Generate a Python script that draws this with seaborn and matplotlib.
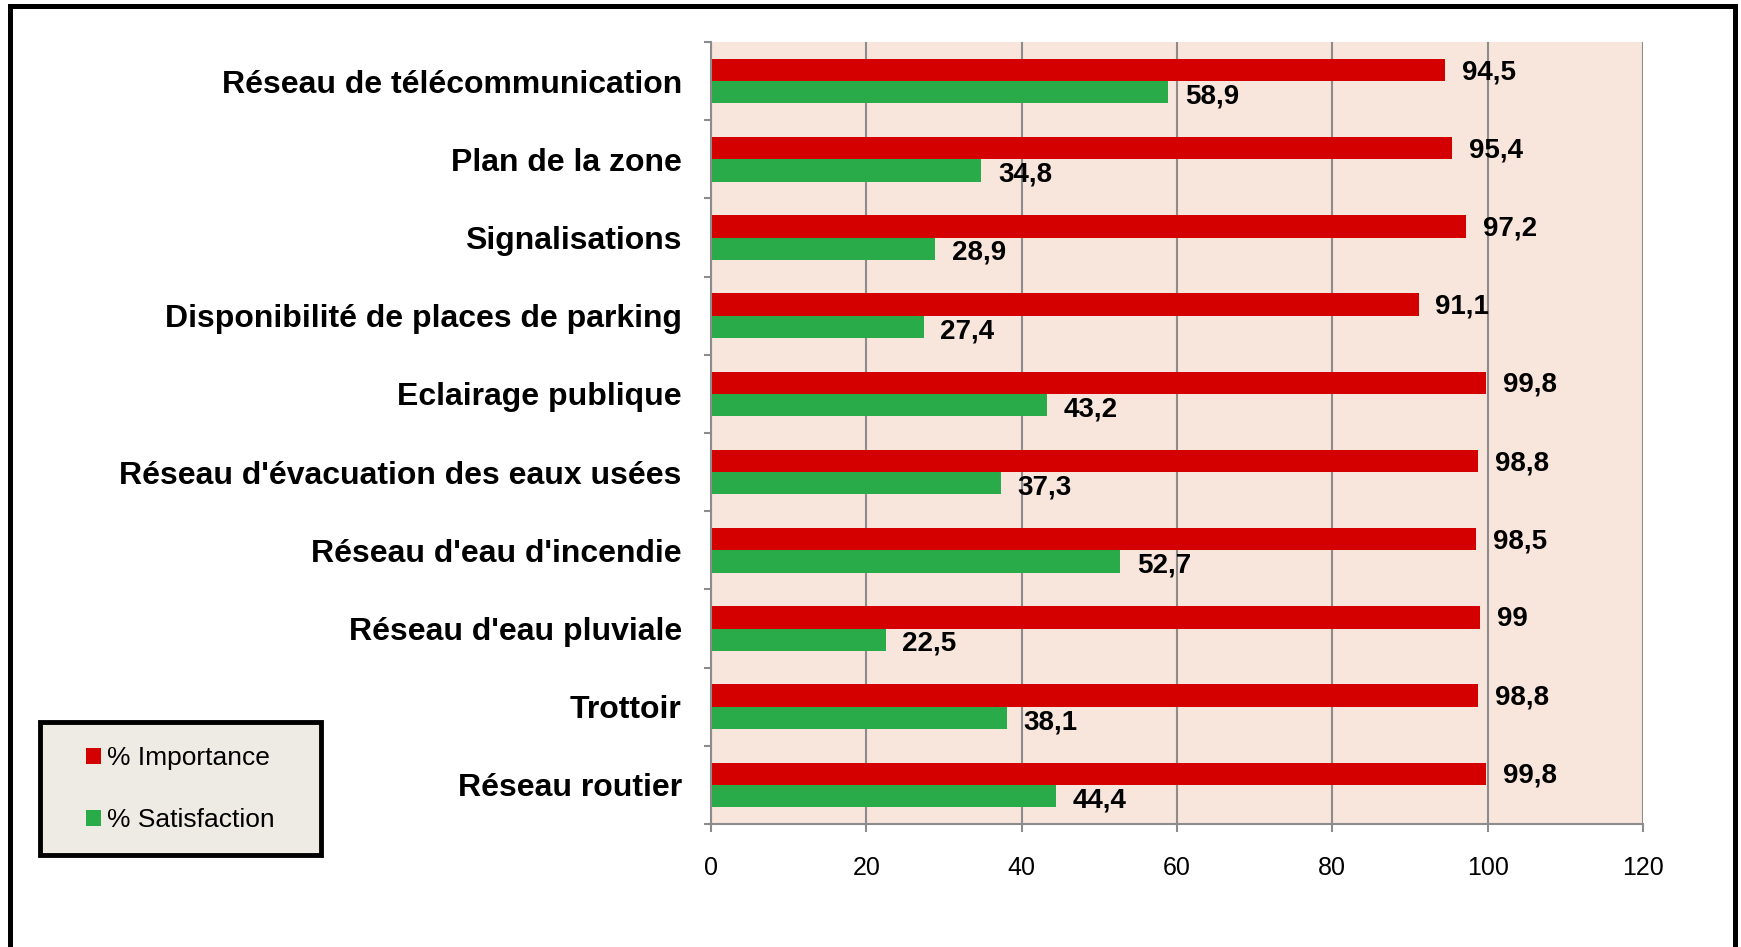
import seaborn as sns
import matplotlib.pyplot as plt
import matplotlib
import pandas as pd
import numpy as np
from matplotlib.patches import Rectangle

matplotlib.use('Agg')

# Données
criteres = [
    "Réseau de télécommunication",
    "Plan de la zone",
    "Signalisations",
    "Disponibilité de places de parking",
    "Eclairage publique",
    "Réseau d'évacuation des eaux usées",
    "Réseau d'eau d'incendie",
    "Réseau d'eau pluviale",
    "Trottoir",
    "Réseau routier",
]
importance = [94.5, 95.4, 97.2, 91.1, 99.8, 98.8, 98.5, 99, 98.8, 99.8]
satisfaction = [58.9, 34.8, 28.9, 27.4, 43.2, 37.3, 52.7, 22.5, 38.1, 44.4]
series = ["% Importance", "% Satisfaction"]
x_ticks = [0, 20, 40, 60, 80, 100, 120]

RED = "#D40000"
GREEN = "#28AB48"
GRID = "#8C8C8C"

df = pd.DataFrame({
    "critere": criteres * 2,
    "valeur": importance + satisfaction,
    "serie": [series[0]] * len(criteres) + [series[1]] * len(criteres),
})

sns.set_style("white")
plt.rcParams['font.family'] = ['Liberation Sans', 'DejaVu Sans']
plt.rcParams['text.color'] = 'black'
plt.rcParams['xtick.color'] = 'black'
plt.rcParams['ytick.color'] = 'black'

fig = plt.figure(figsize=(17.41, 9.47), dpi=100)
ax = fig.add_axes([0.4084, 0.1299, 0.5353, 0.8257])
ax.set_facecolor("#F8E5DC")

sns.barplot(data=df, x="valeur", y="critere", hue="serie", orient="h",
            palette=[RED, GREEN], width=0.57, saturation=1, linewidth=0, ax=ax)

# Étiquettes de valeurs
def fmt(v):
    return ("%g" % v).replace(".", ",")

for k, cont in enumerate(ax.containers):
    dy = -1.5 if k == 0 else -3
    for patch in cont:
        w = patch.get_width()
        yc = patch.get_y() + patch.get_height() / 2
        ax.annotate(fmt(w), (w, yc), xytext=(12, dy), textcoords="offset points",
                    ha="left", va="center", fontsize=20, fontweight="bold", color="black")

# Axes
ax.set_xlim(0, 120)
ax.set_ylim(9.5, -0.5)
ax.set_xticks(x_ticks)
ax.set_xticklabels([str(t) for t in x_ticks])
ax.set_yticks(np.arange(-0.5, 10, 1), minor=True)
ax.set_xlabel("")
ax.set_ylabel("")
ax.set_axisbelow(True)
ax.grid(axis="x", color=GRID, lw=1.5)
ax.grid(axis="y", visible=False)

for s in ["top", "right"]:
    ax.spines[s].set_visible(False)
for s in ["left", "bottom"]:
    ax.spines[s].set_color(GRID)
    ax.spines[s].set_linewidth(1.5)

ax.tick_params(axis="y", which="major", length=0, pad=21, labelsize=23, labelcolor="black")
ax.tick_params(axis="y", which="minor", length=5, width=1.5, color=GRID, left=True)
ax.tick_params(axis="x", which="major", length=6, width=1.5, color=GRID, bottom=True,
               pad=17, labelsize=18, labelcolor="black")
for lbl in ax.get_yticklabels():
    lbl.set_fontweight("bold")

# Légende dans un cadre séparé
handles, labels = ax.get_legend_handles_labels()
ax.get_legend().remove()
fig.add_artist(Rectangle((0.023, 0.0971), 0.1614, 0.1404, transform=fig.transFigure,
                         facecolor="#EEEBE4", edgecolor="black", lw=3.5, zorder=1))
fig.legend(handles, labels, loc="center left", bbox_to_anchor=(0.0495, 0.1665),
           frameon=False, fontsize=19, handlelength=0.55, handleheight=0.55,
           handletextpad=0.25, labelspacing=1.45, borderpad=0, borderaxespad=0)

# Cadre extérieur
fig.add_artist(Rectangle((0.006, -0.02), 0.9906, 1.0137, transform=fig.transFigure,
                         fill=False, edgecolor="black", lw=3.6, zorder=0))

plt.savefig("out.png", dpi=100)
